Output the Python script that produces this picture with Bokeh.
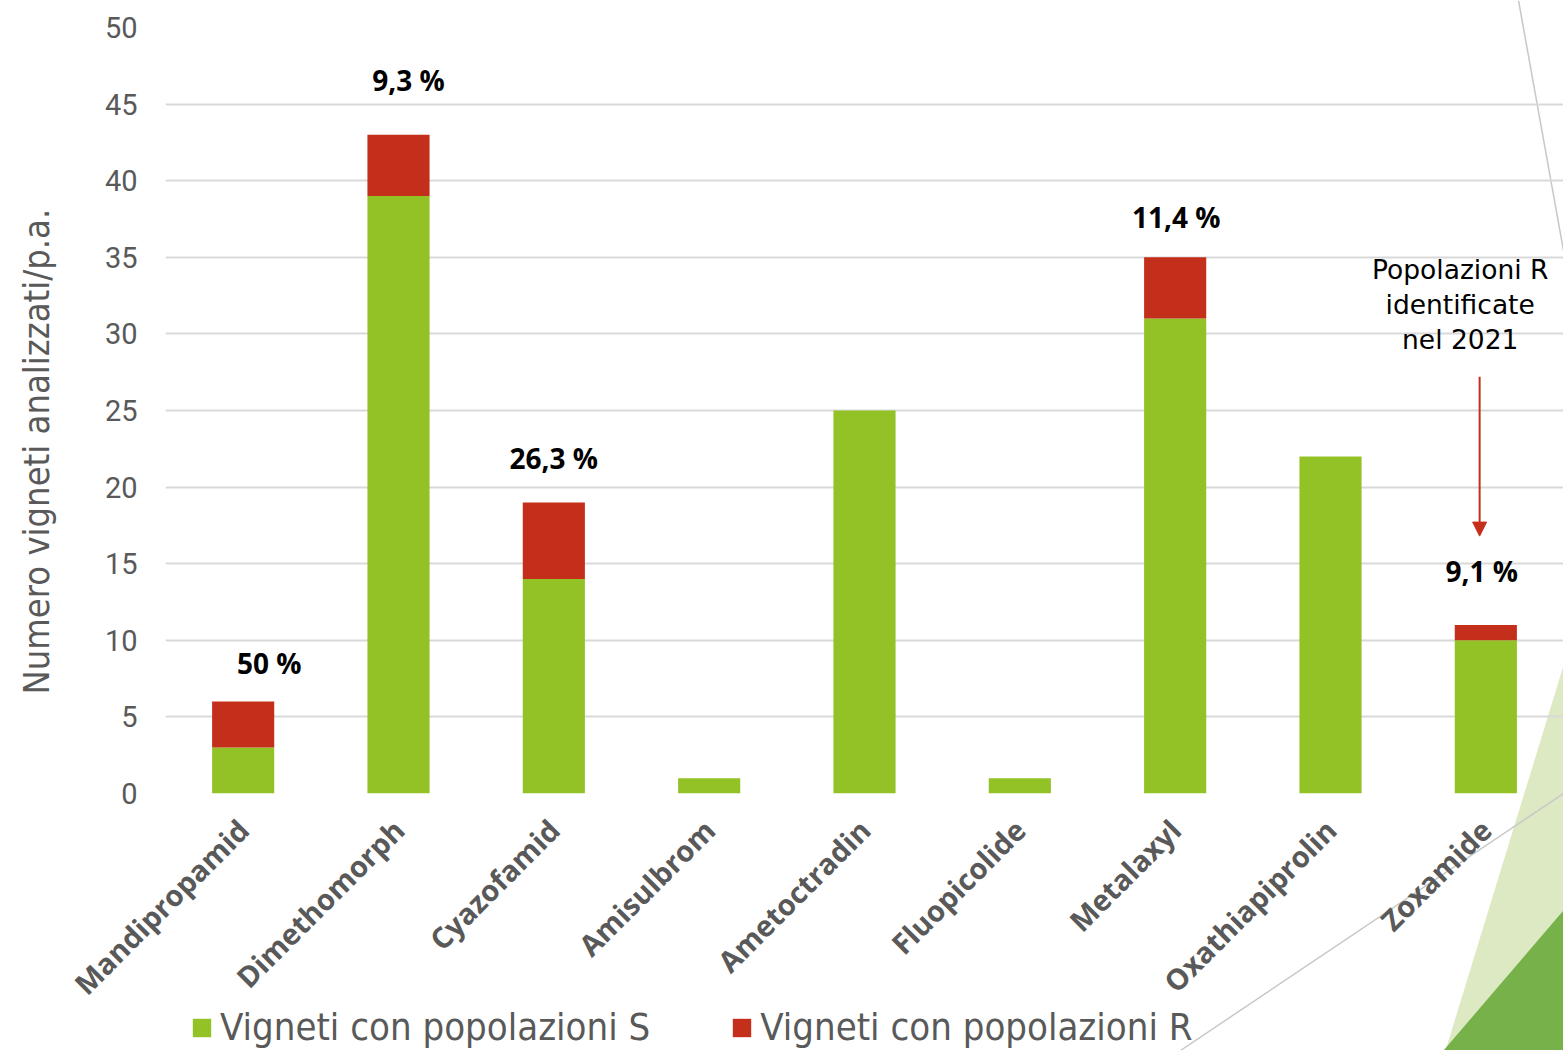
import math
from bokeh.plotting import figure
from bokeh.layouts import column
from bokeh.models import (ColumnDataSource, Legend, LegendItem, Arrow, NormalHead,
                          FactorRange, Range1d, FixedTicker)
from bokeh.core.properties import value
from bokeh.embed import file_html
from bokeh.resources import INLINE

categories = ["Mandipropamid", "Dimethomorph", "Cyazofamid", "Amisulbrom", "Ametoctradin",
              "Fluopicolide", "Metalaxyl", "Oxathiapiprolin", "Zoxamide"]
vigneti_s = [3, 39, 14, 1, 25, 1, 31, 22, 10]
vigneti_r = [3, 4, 5, 0, 0, 0, 4, 0, 1]
pct_labels = ["50 %", "9,3 %", "26,3 %", "", "", "", "11,4 %", "", "9,1 %"]
y_ticks = [0, 5, 10, 15, 20, 25, 30, 35, 40, 45, 50]
series_names = ["Vigneti con popolazioni S", "Vigneti con popolazioni R"]
y_title = "Numero vigneti analizzati/p.a."
note_text = "Popolazioni R\nidentificate\nnel 2021"
note_category = "Zoxamide"

GREEN = "#92c226"
RED = "#c42f1b"
GRAY_TXT = "#595959"
COND_FONT = "DejaVu Sans Condensed, Roboto"

W, H = 1563, 1050
LEFT = 165

# ---- slide background layer (behind the chart): decorations + legend ----
deco = figure(width=W, height=H, x_range=Range1d(LEFT, W), y_range=Range1d(H, 0),
              output_backend="svg", toolbar_location=None,
              min_border_left=LEFT, min_border_right=0, min_border_top=0, min_border_bottom=0,
              x_axis_location=None, y_axis_location=None,
              styles={"position": "absolute", "top": "0px", "left": "0px", "z-index": "0"})
deco.grid.visible = False
deco.outline_line_color = None
deco.background_fill_color = "white"
deco.border_fill_color = "white"
deco.patch([1563, 1445, 1563], [665, 1050, 1050], fill_color="#dde9c3", line_color=None)
deco.patch([1563, 1443, 1563], [910, 1050, 1050], fill_color="#77b14a", line_color=None)
deco.line([1518, 1563], [0, 250], line_color="#c8c8c8", line_width=1.5)
deco.line([1180, 1563], [1050, 793], line_color="#c8c8c8", line_width=1.5)

# legend swatches share the series colours (degenerate, zero-area quads)
sw_s = deco.quad(left=[0], right=[0], top=[0], bottom=[0], fill_color=GREEN, line_color=None)
sw_r = deco.quad(left=[0], right=[0], top=[0], bottom=[0], fill_color=RED, line_color=None)
legend = Legend(items=[LegendItem(label=series_names[0], renderers=[sw_s]),
                       LegendItem(label=series_names[1], renderers=[sw_r])],
                orientation="horizontal", location=(190 - LEFT, 1),
                label_text_font=COND_FONT, label_text_font_size="38px",
                label_text_color=GRAY_TXT, glyph_width=23, glyph_height=23,
                label_standoff=7, spacing=80, padding=0, margin=0,
                border_line_color=None, background_fill_alpha=0)
deco.add_layout(legend, "center")

# ---- main chart ----
p = figure(x_range=FactorRange(*categories, range_padding=0, factor_padding=0),
           y_range=Range1d(0, 50), width=W, height=H,
           output_backend="svg", toolbar_location=None,
           min_border_left=LEFT, min_border_right=0, min_border_top=27, min_border_bottom=257,
           styles={"position": "relative", "z-index": "1"})
p.outline_line_color = None
p.background_fill_alpha = 0
p.border_fill_alpha = 0

src = ColumnDataSource(dict(cat=categories, s=vigneti_s, r=vigneti_r))
rs = p.vbar_stack(["s", "r"], x="cat", width=0.4, color=[GREEN, RED], source=src, line_color=None)

# percentage labels (offsets only position the annotation text)
lab_dy = {0: 2.55, 1: 3.6, 2: 2.9, 6: 2.6, 8: 3.5}
lab_dx = {0: 26, 1: 10, 2: 0, 6: 1, 8: -4}
idx = [i for i, t in enumerate(pct_labels) if t]
lab_src = ColumnDataSource(dict(
    x=[categories[i] for i in idx],
    y=[vigneti_s[i] + vigneti_r[i] + lab_dy[i] for i in idx],
    t=[pct_labels[i] for i in idx],
    dx=[lab_dx[i] for i in idx]))
p.text(x="x", y="y", text="t", x_offset="dx", source=lab_src,
       text_align="center", text_baseline="middle",
       text_font=value("Open Sans"), text_font_style="bold", text_font_size="28px",
       text_color="black")

# note + arrow
ci = categories.index(note_category) + 0.5
p.text(x=[ci - 0.165], y=[35.2], text=[note_text], text_align="center", text_baseline="top",
       text_font=value("DejaVu Sans"), text_font_size="26.5px", text_color="black",
       text_line_height=1.12)
p.add_layout(Arrow(end=NormalHead(size=14, fill_color=RED, line_color=RED),
                   x_start=ci - 0.04, y_start=27.2, x_end=ci - 0.04, y_end=16.8,
                   line_color=RED, line_width=2))

# axes
p.yaxis.ticker = FixedTicker(ticks=y_ticks)
p.yaxis.axis_line_color = None
p.yaxis.major_tick_line_color = None
p.yaxis.minor_tick_line_color = None
p.yaxis.major_label_text_font = "Roboto"
p.yaxis.major_label_text_font_size = "29px"
p.yaxis.major_label_text_color = GRAY_TXT
p.yaxis.major_label_standoff = 22
# trailing no-break spaces nudge the centred title downwards, as in the original
p.yaxis.axis_label = y_title + "\u00a0" * 8
p.yaxis.axis_label_text_font = COND_FONT
p.yaxis.axis_label_text_font_size = "36px"
p.yaxis.axis_label_text_font_style = "normal"
p.yaxis.axis_label_text_color = GRAY_TXT
p.yaxis.axis_label_standoff = 45

p.xaxis.axis_line_color = None
p.xaxis.major_tick_line_color = None
p.xaxis.minor_tick_line_color = None
p.xaxis.major_label_orientation = math.pi / 4
p.xaxis.major_label_text_font = "Open Sans"
p.xaxis.major_label_text_font_style = "bold"
p.xaxis.major_label_text_font_size = "29px"
p.xaxis.major_label_text_color = GRAY_TXT
p.xaxis.major_label_standoff = 25

p.xgrid.grid_line_color = None
p.ygrid.grid_line_color = "#d9d9d9"
p.ygrid.grid_line_width = 2

layout = column(deco, p, styles={"position": "relative"})
open("out.html", "w").write(file_html(layout, INLINE))
